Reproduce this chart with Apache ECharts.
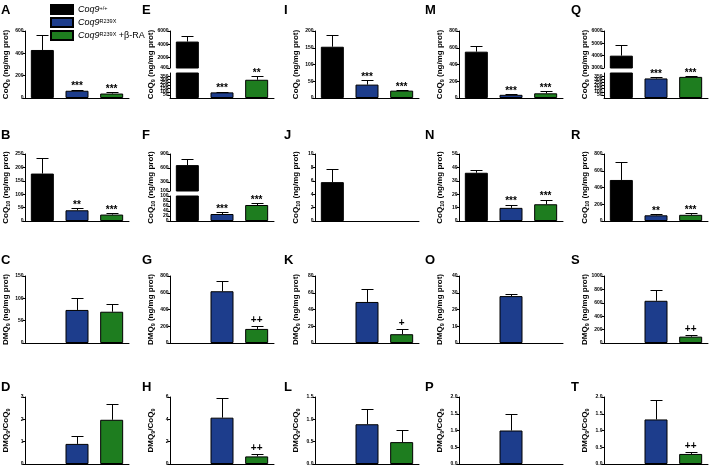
<!DOCTYPE html>
<html>
<head>
<meta charset="utf-8">
<script src="https://cdn.jsdelivr.net/npm/echarts@6/dist/echarts.min.js"></script>
<style>
html, body { margin: 0; padding: 0; background: #fff; }
#chart { width: 709px; height: 469px; }
</style>
</head>
<body>
<div id="chart"></div>
<script>
const FONT = '"Liberation Sans", Arial, Helvetica, sans-serif'

const groups = ['Coq9 +/+', 'Coq9 R239X', 'Coq9 R239X +β-RA']
const groupColors = ['#000000', '#1d3d8c', '#1e7d1f']
const legendText = ['{i|Coq9}{p|+/+}', '{i|Coq9}{p|R239X}', '{i|Coq9}{p|R239X}{n| +β-RA}']
const letters = ['A', 'B', 'C', 'D', 'E', 'F', 'G', 'H', 'I', 'J', 'K', 'L', 'M', 'N', 'O', 'P', 'Q', 'R', 'S', 'T']

// bar heights, whisker tops (mean + SEM) and marks per panel; '-' = no bar
const A_mean = [430, 65, 40], A_top = [565, 76, 50], A_sig = ['', '***', '***']
const B_mean = [177, 40, 24], B_top = [235, 48, 30], B_sig = ['', '**', '***']
const C_mean = ['-', 74, 70], C_top = ['-', 100, 87], C_sig = ['', '', '']
const D_mean = ['-', 0.9, 1.98], D_top = ['-', 1.27, 2.7], D_sig = ['', '', '']
const E_mean = [4400, 90, 292], E_top = [5300, 103, 350], E_sig = ['', '***', '**']
const F_mean = [660, 28, 64], F_top = [790, 36, 73], F_sig = ['', '***', '***']
const G_mean = ['-', 618, 168], G_top = ['-', 738, 198], G_sig = ['', '', '++']
const H_mean = ['-', 4.15, 0.68], H_top = ['-', 5.9, 0.9], H_sig = ['', '', '++']
const I_mean = [153, 40, 22], I_top = [188, 54, 24], I_sig = ['', '***', '***']
const J_mean = [5.8, '-', '-'], J_top = [7.7, '-', '-'], J_sig = ['', '', '']
const K_mean = ['-', 49, 10.5], K_top = ['-', 65, 16.5], K_sig = ['', '', '+']
const L_mean = ['-', 0.89, 0.49], L_top = ['-', 1.24, 0.76], L_sig = ['', '', '']
const M_mean = [553, 38, 56], M_top = [620, 45, 80], M_sig = ['', '***', '***']
const N_mean = [36, 9.8, 12.5], N_top = [38, 12.3, 16], N_sig = ['', '***', '***']
const O_mean = ['-', 28, '-'], O_top = ['-', 29.5, '-'], O_sig = ['', '', '']
const P_mean = ['-', 1.0, '-'], P_top = ['-', 1.49, '-'], P_sig = ['', '', '']
const Q_mean = [4000, 313, 338], Q_top = [4900, 338, 354], Q_sig = ['', '***', '***']
const R_mean = [490, 68, 74], R_top = [700, 78, 90], R_sig = ['', '**', '***']
const S_mean = ['-', 630, 95], S_top = ['-', 790, 115], S_sig = ['', '', '++']
const T_mean = ['-', 1.33, 0.3], T_top = ['-', 1.9, 0.36], T_sig = ['', '', '++']

// y tick values per panel (lower segment for broken axes)
const A_ticks = [0, 200, 400, 600]
const B_ticks = [0, 50, 100, 150, 200, 250]
const C_ticks = [0, 50, 100, 150]
const D_ticks = [0, 1, 2, 3]
const E_ticks = [0, 50, 100, 150, 200, 250, 300, 350, 400]
const E_upper = [400, 2000, 4000, 6000]
const F_ticks = [0, 20, 40, 60, 80, 100]
const F_upper = [100, 300, 600, 900]
const G_ticks = [0, 200, 400, 600, 800]
const H_ticks = [0, 2, 4, 6]
const I_ticks = [0, 50, 100, 150, 200]
const J_ticks = [0, 2, 4, 6, 8, 10]
const K_ticks = [0, 20, 40, 60, 80]
const L_ticks = [0, 0.5, 1, 1.5]
const M_ticks = [0, 200, 400, 600, 800]
const N_ticks = [0, 10, 20, 30, 40, 50]
const O_ticks = [0, 10, 20, 30, 40]
const P_ticks = [0, 0.5, 1, 1.5, 2]
const Q_ticks = [0, 50, 100, 150, 200, 250, 300, 350, 400]
const Q_upper = [3000, 4000, 5000, 6000]
const R_ticks = [0, 200, 400, 600, 800]
const S_ticks = [0, 200, 400, 600, 800, 1000]
const T_ticks = [0, 0.5, 1, 1.5, 2]

const rowNames = [
  '{b|CoQ}{s|9}{b| (ng/mg prot)}',
  '{b|CoQ}{s|10}{b| (ng/mg prot)}',
  '{b|DMQ}{s|9}{b| (ng/mg prot)}',
  '{b|DMQ}{s|9}{b|/CoQ}{s|9}'
]

const meanList = [A_mean, B_mean, C_mean, D_mean, E_mean, F_mean, G_mean, H_mean, I_mean, J_mean,
  K_mean, L_mean, M_mean, N_mean, O_mean, P_mean, Q_mean, R_mean, S_mean, T_mean]
const topList = [A_top, B_top, C_top, D_top, E_top, F_top, G_top, H_top, I_top, J_top,
  K_top, L_top, M_top, N_top, O_top, P_top, Q_top, R_top, S_top, T_top]
const sigList = [A_sig, B_sig, C_sig, D_sig, E_sig, F_sig, G_sig, H_sig, I_sig, J_sig,
  K_sig, L_sig, M_sig, N_sig, O_sig, P_sig, Q_sig, R_sig, S_sig, T_sig]
const tickList = [A_ticks, B_ticks, C_ticks, D_ticks, E_ticks, F_ticks, G_ticks, H_ticks, I_ticks, J_ticks,
  K_ticks, L_ticks, M_ticks, N_ticks, O_ticks, P_ticks, Q_ticks, R_ticks, S_ticks, T_ticks]
const upperTicks = { 4: E_upper, 5: F_upper, 16: Q_upper }

// layout
const colLeft = [25, 170, 315, 459, 604]
const rowTop = [31, 154, 276, 397]
const rowBottom = [98, 221, 343, 464]
const plotWidth = 104
const upperHeight = 37
const breakGap = 5
const letterX = [2, 143, 285, 426, 572]
const letterY = [6, 131, 256, 383]

const nameStyle = {
  fontFamily: FONT, fontSize: 8, fontWeight: 'bold', color: '#000',
  rich: {
    b: { fontFamily: FONT, fontSize: 8, fontWeight: 'bold', color: '#000', lineHeight: 9, verticalAlign: 'top', padding: [0, 0, 1.5, 0] },
    s: { fontFamily: FONT, fontSize: 5.5, fontWeight: 'bold', color: '#000', lineHeight: 6, verticalAlign: 'bottom' }
  }
}

const grids = []
const xAxes = []
const yAxes = []
const series = []

function addGrid (left, top, bottom) {
  grids.push({ left: left, top: top, width: plotWidth, height: bottom - top })
  return grids.length - 1
}

function xAxisFor (gi, visible) {
  return {
    gridIndex: gi,
    type: 'category',
    data: ['wt', 'mut', 'mutRA'],
    show: visible,
    axisLine: { lineStyle: { color: '#000', width: 1 } },
    axisTick: { alignWithLabel: true, length: 3, lineStyle: { color: '#000', width: 1 } },
    axisLabel: { show: false },
    splitLine: { show: false }
  }
}

function yAxisFor (gi, ticks, name) {
  const dec = ticks.some(t => t % 1 !== 0)
  return {
    gridIndex: gi,
    type: 'value',
    min: ticks[0],
    max: ticks[ticks.length - 1],
    axisLine: { show: true, lineStyle: { color: '#000', width: 1 } },
    axisTick: { show: true, length: 2.5, customValues: ticks, lineStyle: { color: '#000', width: 1 } },
    axisLabel: {
      fontSize: 5, fontWeight: 'bold', fontFamily: FONT, color: '#000', margin: 1.5,
      customValues: ticks,
      formatter: v => dec ? Number(v).toFixed(1) : String(v)
    },
    splitLine: { show: false },
    name: name || '',
    nameLocation: 'middle',
    nameRotate: 90,
    nameGap: 14,
    nameMoveOverlap: false,
    nameTextStyle: nameStyle
  }
}

function addSeries (gi, mean, whisker, sig, lo, hi) {
  groups.forEach((g, k) => {
    series.push({
      name: g,
      type: 'bar',
      xAxisIndex: gi,
      yAxisIndex: gi,
      barWidth: 23,
      barGap: '-100%',
      clip: true,
      silent: true,
      itemStyle: { color: groupColors[k], borderColor: '#000', borderWidth: 1 },
      data: [0, 1, 2].map(j => (j === k && mean[j] !== '-' && mean[j] > lo) ? mean[j] : '-')
    })
  })
  const errRows = []
  const sigRows = []
  const sigText = []
  for (let j = 0; j < 3; j++) {
    if (whisker[j] === '-' || whisker[j] <= lo || whisker[j] > hi) continue
    errRows.push([j, Math.max(mean[j], lo), whisker[j]])
    if (sig[j]) {
      sigRows.push([j, whisker[j]])
      sigText.push(sig[j])
    }
  }
  series.push({
    type: 'custom',
    xAxisIndex: gi,
    yAxisIndex: gi,
    silent: true,
    z: 3,
    data: errRows,
    renderItem (params, api) {
      const p0 = api.coord([api.value(0), api.value(1)])
      const p1 = api.coord([api.value(0), api.value(2)])
      const x = Math.round(p0[0]) + 0.5
      const y = Math.round(p1[1]) + 0.5
      return {
        type: 'group',
        children: [
          { type: 'line', shape: { x1: x, y1: p0[1], x2: x, y2: y }, style: { stroke: '#000', lineWidth: 1 } },
          { type: 'line', shape: { x1: x - 6, y1: y, x2: x + 6, y2: y }, style: { stroke: '#000', lineWidth: 1 } }
        ]
      }
    }
  })
  series.push({
    type: 'custom',
    xAxisIndex: gi,
    yAxisIndex: gi,
    silent: true,
    z: 4,
    data: sigRows,
    renderItem (params, api) {
      const p = api.coord([api.value(0), api.value(1)])
      const label = sigText[params.dataIndex]
      const isStar = label.indexOf('*') >= 0
      return {
        type: 'text',
        x: p[0],
        y: p[1] + (isStar ? 2 : -1),
        style: {
          text: label,
          textAlign: 'center',
          textVerticalAlign: 'bottom',
          font: 'bold 10px ' + FONT,
          fill: '#000'
        }
      }
    }
  })
}

letters.forEach((letter, p) => {
  const col = Math.floor(p / 4)
  const row = p % 4
  const left = colLeft[col]
  const top = rowTop[row]
  const bottom = rowBottom[row]
  const up = upperTicks[p]
  if (up) {
    const gU = addGrid(left, top, top + upperHeight)
    xAxes.push(xAxisFor(gU, false))
    yAxes.push(yAxisFor(gU, up, ''))
    addSeries(gU, meanList[p], topList[p], sigList[p], up[0], up[up.length - 1])

    const ticks = tickList[p]
    const gL = addGrid(left, top + upperHeight + breakGap, bottom)
    xAxes.push(xAxisFor(gL, true))
    yAxes.push(yAxisFor(gL, ticks, ''))
    addSeries(gL, meanList[p], topList[p], sigList[p], ticks[0], ticks[ticks.length - 1])

    // full-height axis that only carries the name
    const gN = addGrid(left, top, bottom)
    xAxes.push(xAxisFor(gN, false))
    const nameAxis = yAxisFor(gN, [0, 1], rowNames[row])
    nameAxis.axisLine = { show: false }
    nameAxis.axisTick = { show: false }
    nameAxis.axisLabel = { show: false }
    yAxes.push(nameAxis)
  } else {
    const ticks = tickList[p]
    const g = addGrid(left, top, bottom)
    xAxes.push(xAxisFor(g, true))
    yAxes.push(yAxisFor(g, ticks, rowNames[row]))
    addSeries(g, meanList[p], topList[p], sigList[p], ticks[0], ticks[ticks.length - 1])
  }
})

const titles = letters.map((letter, p) => ({
  text: letter,
  left: letterX[Math.floor(p / 4)] - 1,
  top: letterY[p % 4] - 2,
  padding: 0,
  textStyle: { fontFamily: FONT, fontSize: 13, fontWeight: 'bold', color: '#000', lineHeight: 13 }
}))

const chart = echarts.init(document.getElementById('chart'))
chart.setOption({
  backgroundColor: '#ffffff',
  animation: false,
  title: titles,
  legend: {
    data: groups,
    orient: 'vertical',
    left: 50,
    top: 4,
    padding: 0,
    itemWidth: 22,
    itemHeight: 9,
    itemGap: 2,
    icon: 'rect',
    selectedMode: false,
    formatter: name => legendText[groups.indexOf(name)],
    textStyle: {
      fontFamily: FONT, fontSize: 9, color: '#000',
      rich: {
        i: { fontFamily: FONT, fontSize: 9, fontStyle: 'italic', color: '#000', lineHeight: 9, verticalAlign: 'bottom' },
        p: { fontFamily: FONT, fontSize: 5.5, color: '#000', lineHeight: 6, verticalAlign: 'top' },
        n: { fontFamily: FONT, fontSize: 9, color: '#000', lineHeight: 9, verticalAlign: 'bottom' }
      }
    }
  },
  grid: grids,
  xAxis: xAxes,
  yAxis: yAxes,
  series: series
})
</script>
</body>
</html>
